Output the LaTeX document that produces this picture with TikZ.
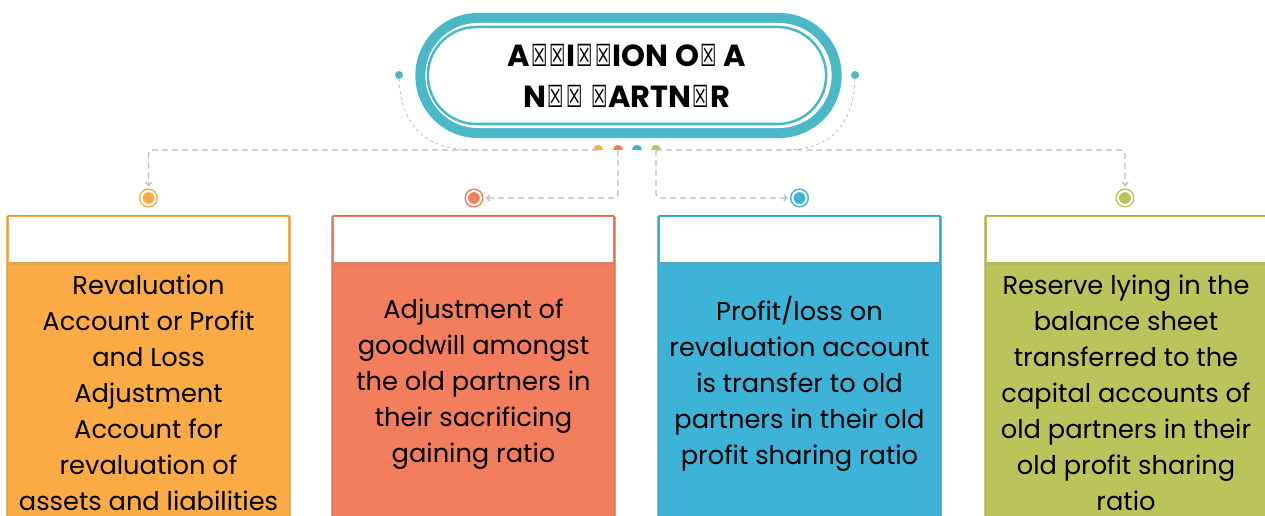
\documentclass[tikz,border=0pt]{standalone}
\usepackage{fontspec}
\usepackage{graphicx}
\setmainfont{Poppins}
\newfontfamily\tofufont{DejaVu Sans}
\usetikzlibrary{shapes.misc,shapes.geometric,arrows.meta,shadows}
\definecolor{pilltone}{HTML}{4BB8C8}
\definecolor{orangebox}{HTML}{FBAB45}
\definecolor{redbox}{HTML}{F27E5E}
\definecolor{bluebox}{HTML}{3DB4D7}
\definecolor{greenbox}{HTML}{BBC45B}
\definecolor{linkgrey}{HTML}{BDBDBD}
\newcommand{\tofu}{\kern1pt\scalebox{0.6}[1]{\tofufont\mdseries\char"2612}\kern1pt}
\begin{document}
\begin{tikzpicture}[x=1pt,y=-1pt,
  box/.style={draw=#1!88!black, line width=1.2pt, fill=#1, rounded corners=2pt, minimum width=283pt, minimum height=330pt, anchor=north, inner sep=0pt},
  head/.style={fill=white, minimum width=279pt, minimum height=45pt, anchor=north, inner sep=0pt, drop shadow={shadow xshift=0pt, shadow yshift=-3pt, opacity=0.18}},
  body/.style={align=center, font=\fontsize{25.7}{36}\selectfont, text=black},
  ring/.style={circle, fill=#1, draw=#1, double=white, double distance=2pt, line width=1.5pt, minimum size=14pt, inner sep=0pt},
  tip/.style={semicircle, fill=#1, minimum size=5pt, inner sep=0pt, anchor=south},
  link/.style={draw=linkgrey, line width=1.4pt, dash pattern=on 6pt off 4pt, rounded corners=4pt},
  arrowlink/.style={link, -{Straight Barb[length=3pt,width=6pt]}, shorten >=4pt},
  sidelink/.style={draw=linkgrey, line width=0.8pt, dash pattern=on 3pt off 3pt}]
\useasboundingbox (0,0) rectangle (1265,516);
\fill[white] (0,0) rectangle (1265,516);
\clip (0,0) rectangle (1265,516);

% title pill
\node[rounded rectangle, fill=pilltone, minimum width=433pt, minimum height=125pt] (pillrim) at (628.5,75.5) {};
\node[rounded rectangle, fill=white, minimum width=413pt, minimum height=105pt] (pillgap) at (628.5,75.5) {};
\node[rounded rectangle, draw=pilltone, line width=2.5pt, fill=white, minimum width=405pt, minimum height=97pt, align=center, font=\fontsize{30.5}{41}\selectfont\bfseries] (title) at (627,75.5) {A\tofu\tofu I\tofu\tofu ION O\tofu{} A\\N\tofu\tofu{} \tofu ARTN\tofu R};

% side dots and curves
\node[circle, fill=pilltone, minimum size=8pt, inner sep=0pt] (sideL) at (399,75) {};
\node[circle, fill=pilltone, minimum size=8pt, inner sep=0pt] (sideR) at (855,75) {};
\coordinate (joinL) at (474,150);
\coordinate (joinR) at (784,150);
\draw[sidelink] (sideL) .. controls (401,130) and (430,150) .. (joinL);
\draw[sidelink] (sideR) .. controls (853,130) and (826,150) .. (joinR);

% coloured tips under the pill
\node[tip=orangebox] (dotO) at (598,150) {};
\node[tip=redbox] (dotR) at (618,150) {};
\node[tip=bluebox] (dotB) at (637,150) {};
\node[tip=greenbox] (dotG) at (656,150) {};

% rings
\node[ring=orangebox] (ringO) at (148.5,198) {};
\node[ring=redbox] (ringR) at (474,198) {};
\node[ring=bluebox] (ringB) at (799.5,198) {};
\node[ring=greenbox] (ringG) at (1125,198) {};

% connectors
\draw[arrowlink] (dotO.south) -| (ringO.north);
\draw[arrowlink] (dotR.south) |- (ringR.east);
\draw[arrowlink] (dotG.south) |- (ringB.west);
\draw[arrowlink] (dotG.south) -| (ringG.north);

% boxes
\node[box=orangebox] (boxO) at (148.5,215) {};
\node[box=redbox] (boxR) at (473.5,215) {};
\node[box=bluebox] (boxB) at (799.5,215) {};
\node[box=greenbox] (boxG) at (1126.5,215) {};
\node[head] (headO) at (148.5,217) {};
\node[head] (headR) at (473.5,217) {};
\node[head] (headB) at (799.5,217) {};
\node[head] (headG) at (1126.5,217) {};

% box texts
\node[body] (textO) at (148.5,393) {Revaluation\\Account or Profit\\and Loss\\Adjustment\\Account for\\revaluation of\\assets and liabilities};
\node[body] (textR) at (473.5,384) {Adjustment of\\goodwill amongst\\the old partners in\\their sacrificing\\gaining ratio};
\node[body] (textB) at (799.5,384) {Profit/loss on\\revaluation account\\is transfer to old\\partners in their old\\profit sharing ratio};
\node[body] (textG) at (1126,393) {Reserve lying in the\\balance sheet\\transferred to the\\capital accounts of\\old partners in their\\old profit sharing\\ratio};
\end{tikzpicture}
\end{document}
